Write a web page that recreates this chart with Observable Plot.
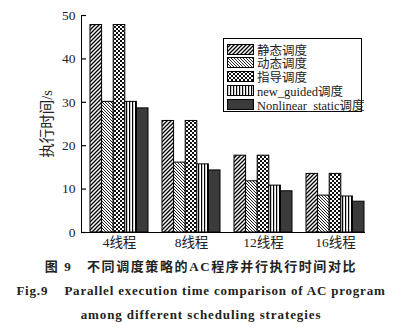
<!DOCTYPE html>
<html><head><meta charset="utf-8">
<script src="https://cdn.jsdelivr.net/npm/d3@7"></script>
<script src="https://cdn.jsdelivr.net/npm/@observablehq/plot@0.6"></script>
<style>
body{margin:0;background:#fff;font-family:"Liberation Serif","Noto Sans CJK SC",serif;}
#wrap{position:relative;width:402px;height:330px;}
#legend{position:absolute;left:223px;top:38px;width:137px;height:72px;border:1px solid #000;background:#fff;font-size:12.5px;color:#222;}
.row{position:absolute;left:3px;height:12px;display:flex;align-items:center;white-space:nowrap;}
.cap{position:absolute;left:0;width:402px;text-align:center;font-weight:bold;font-size:13px;color:#222;white-space:nowrap;}
</style></head><body>
<svg width="0" height="0" style="position:absolute">
<defs>
<pattern id="pStatic" patternUnits="userSpaceOnUse" width="4" height="4">
<rect width="4" height="4" fill="#fff"/><path d="M-1,1 l2,-2 M0,4 l4,-4 M3,5 l2,-2" stroke="#000" stroke-width="1.3"/>
</pattern>
<pattern id="pDynamic" patternUnits="userSpaceOnUse" width="3" height="3">
<rect width="3" height="3" fill="#fff"/><path d="M0,0 L3,3 M-1,2 L1,4 M2,-1 L4,1" stroke="#222" stroke-width="1"/>
</pattern>
<pattern id="pGuided" patternUnits="userSpaceOnUse" width="4" height="4">
<rect width="4" height="4" fill="#fff"/><rect width="2" height="2" fill="#111"/><rect x="2" y="2" width="2" height="2" fill="#111"/>
</pattern>
<pattern id="pNew" patternUnits="userSpaceOnUse" width="3" height="3">
<rect width="3" height="3" fill="#fff"/><rect width="1.2" height="3" fill="#000"/>
</pattern>
</defs></svg>
<div id="wrap">
<div id="chart"></div>
<div id="legend"></div>
<div class="cap" style="top:256px;letter-spacing:1.6px;">图 9&nbsp;&nbsp;&nbsp;不同调度策略的AC程序并行执行时间对比</div>
<div class="cap" style="top:283px;letter-spacing:0.8px;">Fig.9&nbsp;&nbsp;&nbsp;&nbsp;Parallel execution time comparison of AC program</div>
<div class="cap" style="top:307px;letter-spacing:0.9px;">among different scheduling strategies</div>
</div>
<script>
const threads = ["4线程", "8线程", "12线程", "16线程"];
const seriesNames = ["静态调度", "动态调度", "指导调度", "new_guided调度", "Nonlinear_static调度"];
const staticVals = [47.8, 25.7, 17.7, 13.5];
const dynamicVals = [30.1, 16.1, 11.8, 8.5];
const guidedVals = [47.8, 25.7, 17.7, 13.5];
const newGuidedVals = [30.1, 15.7, 10.8, 8.3];
const nonlinearVals = [28.6, 14.3, 9.5, 7.1];
const yTicks = [0, 10, 20, 30, 40, 50];

const fills = ["url(#pStatic)", "url(#pDynamic)", "url(#pGuided)", "url(#pNew)", "#3b3b3b"];
const allVals = [staticVals, dynamicVals, guidedVals, newGuidedVals, nonlinearVals];
const data = [];
allVals.forEach((vals, i) => vals.forEach((v, j) => data.push({thread: threads[j], series: seriesNames[i], si: i, value: v})));

const W = 402, ML = 81, MR = 38;
const bw = 58, n = seriesNames.length, w = bw / n;
const bars = seriesNames.map((s, i) => Plot.barY(data.filter(d => d.si === i), {
  x: "thread", y: "value", fill: fills[i], stroke: "#000", strokeWidth: 1,
  insetLeft: i * w, insetRight: (n - 1 - i) * w
}));

const chart = Plot.plot({
  width: W, height: 252,
  marginLeft: ML, marginRight: MR, marginTop: 15, marginBottom: 20,
  style: {fontFamily: '"Liberation Serif","Noto Sans CJK SC",serif', fontSize: "13px", color: "#222", background: "#fff"},
  x: {domain: threads, paddingInner: 0.2, paddingOuter: 0.052, align: 1, label: null},
  y: {domain: [0, 50], ticks: yTicks},
  marks: [
    ...bars,
    Plot.axisY({ticks: yTicks, tickSize: 0, tickPadding: 6, label: null, fontSize: 13.5}),
    Plot.axisY({ticks: [], tickSize: 0, label: "执行时间/s", labelAnchor: "center", labelOffset: 40, labelArrow: "none", fontSize: 14.5}),
    Plot.tickY(yTicks, {y: d => d, stroke: "#000", strokeWidth: 1.2, insetRight: W - ML - MR - 5}),
    Plot.axisX({tickSize: 0, tickPadding: 5, fontSize: 13.5, label: null}),
    Plot.frame({anchor: "left", stroke: "#000"}),
    Plot.frame({anchor: "bottom", stroke: "#000"})
  ]
});
document.getElementById("chart").appendChild(chart);

const leg = document.getElementById("legend");
seriesNames.forEach((s, i) => {
  const r = document.createElement("div");
  r.className = "row";
  r.style.top = (4 + i * 13.75) + "px";
  r.innerHTML = `<svg width="27" height="11" style="margin-right:3px"><rect x="0.5" y="0.5" width="26" height="10" fill="${fills[i]}" stroke="#000"/></svg><span>${s}</span>`;
  leg.appendChild(r);
});
</script>
</body></html>
